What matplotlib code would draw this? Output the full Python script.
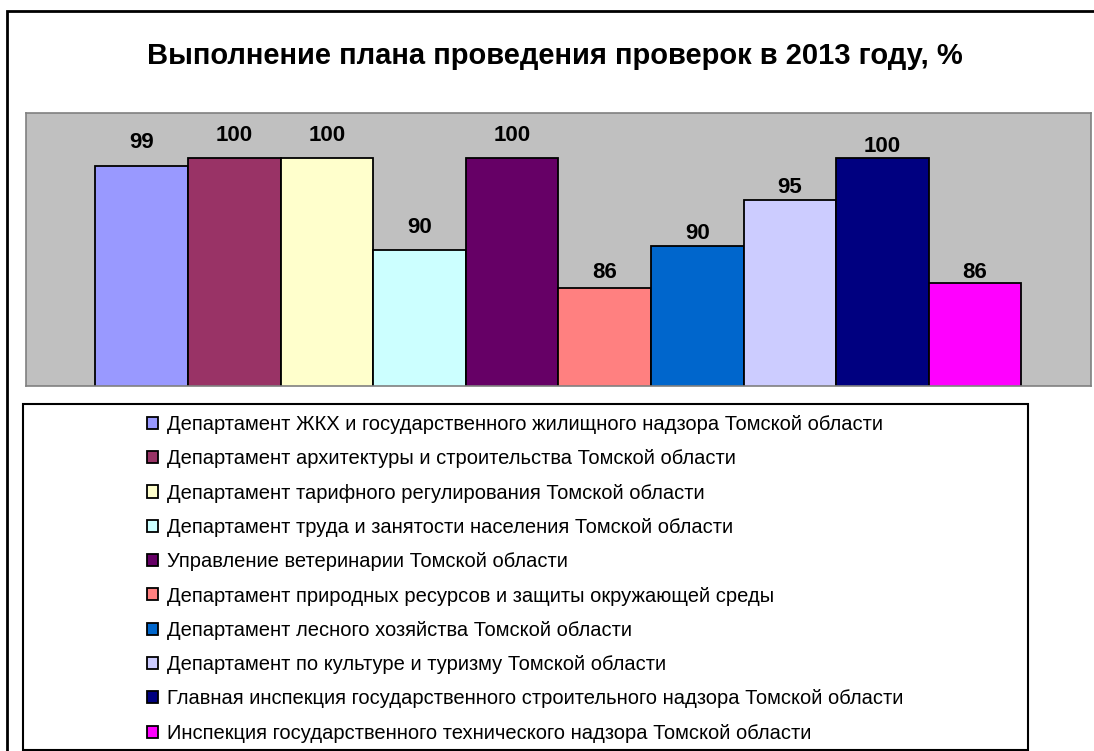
import matplotlib.pyplot as plt
from matplotlib.patches import Patch, Rectangle

departments = [
    "Департамент ЖКХ и государственного жилищного надзора Томской области",
    "Департамент архитектуры и строительства Томской области",
    "Департамент тарифного регулирования Томской области",
    "Департамент труда и занятости населения Томской области",
    "Управление ветеринарии Томской области",
    "Департамент природных ресурсов и защиты окружающей среды",
    "Департамент лесного хозяйства Томской области",
    "Департамент по культуре и туризму Томской области",
    "Главная инспекция государственного строительного надзора Томской области",
    "Инспекция государственного технического надзора Томской области",
]
values = [99.2, 100, 100, 89.9, 100, 85.7, 90.4, 95.4, 100, 86.3]
colors = ["#9999FF", "#993366", "#FFFFCC", "#CCFFFF", "#660066",
          "#FF8080", "#0066CC", "#CCCCFF", "#000080", "#FF00FF"]
# label offsets above the bars (points), as placed in the original
label_pad = [9.4, 9.0, 9.0, 8.6, 9.0, 3.6, 1.4, 1.4, 1.4, 0.0]

plt.rcParams['font.family'] = ['Liberation Sans', 'DejaVu Sans']

W, H = 1094, 751
fig = plt.figure(figsize=(W / 100, H / 100), dpi=100)

# outer chart frame (cut by the image edges on the right and bottom)
fig.patches.append(Rectangle((7 / W, -0.1), 1.2, (H - 11) / H + 0.1,
                             transform=fig.transFigure, fill=False,
                             edgecolor='black', lw=2))

ax = fig.add_axes([26 / W, 1 - 385.7 / H, (1090.7 - 26) / W, (385.7 - 113) / H])
ax.set_facecolor('#C0C0C0')
for i, (v, c) in enumerate(zip(values, colors)):
    bars = ax.bar(i, v, width=1.0, color=c, edgecolor='black', linewidth=1.3)
    ax.bar_label(bars, fmt='%.0f', padding=label_pad[i],
                 fontsize=16, fontweight='bold')
ax.set_ylim(75, 105)
ax.set_xlim(-1.25, 10.25)
ax.set_xticks([])
ax.set_yticks([])
for s in ax.spines.values():
    s.set_color('#808080')
    s.set_linewidth(1.2)

fig.text(555 / W, 1 - 56 / H, "Выполнение плана проведения проверок в 2013 году, %",
         ha='center', va='center', fontsize=21, fontweight='bold')

# legend box
fig.patches.append(Rectangle((23 / W, 1 - 750 / H), (1028 - 23) / W, (750 - 404) / H,
                             transform=fig.transFigure, fill=False,
                             edgecolor='black', lw=1.5))
handles = [Patch(facecolor=c, edgecolor='black', linewidth=1.3) for c in colors]
fig.legend(handles, departments, loc='upper left',
           bbox_to_anchor=(147 / W, 1 - 415 / H), frameon=False,
           fontsize=14.5, handlelength=0.55, handleheight=0.55,
           handletextpad=0.45, labelspacing=0.76, borderpad=0, borderaxespad=0)

fig.savefig('out.png', dpi=100)
